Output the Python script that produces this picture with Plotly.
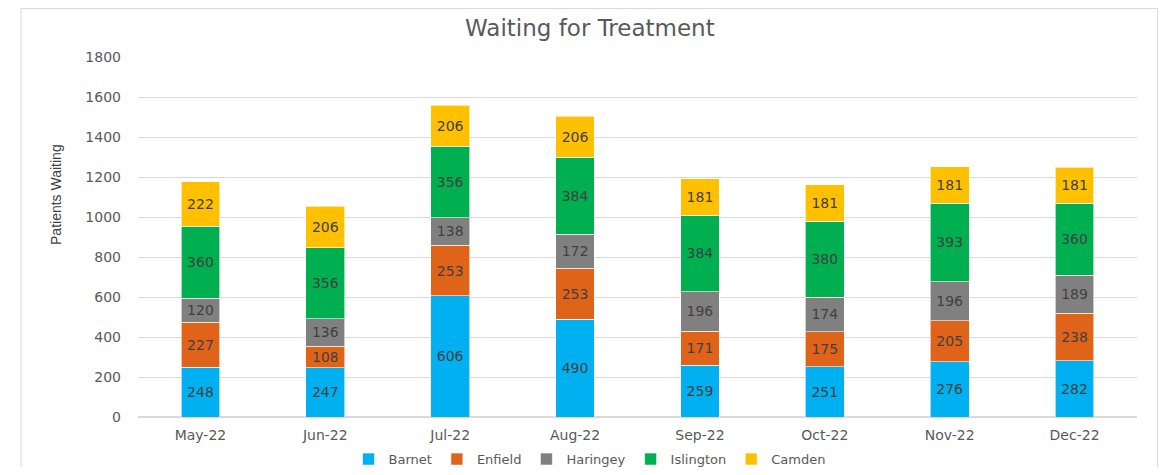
import plotly.graph_objects as go

months = ["May-22", "Jun-22", "Jul-22", "Aug-22", "Sep-22", "Oct-22", "Nov-22", "Dec-22"]
barnet = [248, 247, 606, 490, 259, 251, 276, 282]
enfield = [227, 108, 253, 253, 171, 175, 205, 238]
haringey = [120, 136, 138, 172, 196, 174, 196, 189]
islington = [360, 356, 356, 384, 384, 380, 393, 360]
camden = [222, 206, 206, 206, 181, 181, 181, 181]

series = [
    ("Barnet", barnet, "#00B0F0"),
    ("Enfield", enfield, "#E0631A"),
    ("Haringey", haringey, "#808080"),
    ("Islington", islington, "#00B050"),
    ("Camden", camden, "#FFC000"),
]

font_main = "Verdana, DejaVu Sans, sans-serif"

fig = go.Figure()
for name, vals, colour in series:
    fig.add_trace(
        go.Bar(
            x=months,
            y=vals,
            name=name,
            text=vals,
            textposition="inside",
            insidetextanchor="middle",
            textangle=0,
            textfont=dict(family=font_main, size=14, color="#404040"),
            marker=dict(color=colour, line=dict(color="rgba(255,255,255,0.6)", width=1)),
            width=0.31,
        )
    )

# chart border (Excel chart area)
fig.add_shape(
    type="rect", xref="paper", yref="paper",
    x0=-0.117, x1=1.0205, y0=-0.2, y1=1.1347,
    line=dict(color="#D9D9D9", width=1), fillcolor="rgba(0,0,0,0)",
)

fig.add_annotation(
    text="Patients Waiting", xref="paper", yref="paper",
    x=-0.092, y=0.617, textangle=-90, showarrow=False,
    font=dict(family="Liberation Sans, Arial, sans-serif", size=14, color="#404040"),
)

# page body adds an 8px margin, so the figure is drawn 8px smaller
fig.update_layout(
    barmode="stack",
    width=1150,
    height=459,
    margin=dict(l=130, r=21, t=49, b=50, autoexpand=False),
    paper_bgcolor="white",
    plot_bgcolor="white",
    title=dict(
        text="Waiting for Treatment", x=0.506, xanchor="center", y=0.956, yanchor="middle",
        font=dict(family=font_main, size=23, color="#595959"),
    ),
    legend=dict(
        orientation="h", x=0.452, xanchor="center", y=-0.117, yanchor="middle",
        font=dict(family=font_main, size=13, color="#595959"), itemwidth=30,
        traceorder="normal",
    ),
    showlegend=True,
)
fig.update_yaxes(
    range=[0, 1800], dtick=200, showgrid=True, gridcolor="#D9D9D9", gridwidth=1,
    zeroline=True, zerolinecolor="#D9D9D9", ticks="", ticklabelstandoff=16,
    tickfont=dict(family=font_main, size=14, color="#595959"),
)
fig.update_xaxes(
    showline=True, linecolor="#D9D9D9", ticks="", ticklabelstandoff=5,
    tickfont=dict(family=font_main, size=14, color="#595959"),
)

fig.write_html("out.html")
